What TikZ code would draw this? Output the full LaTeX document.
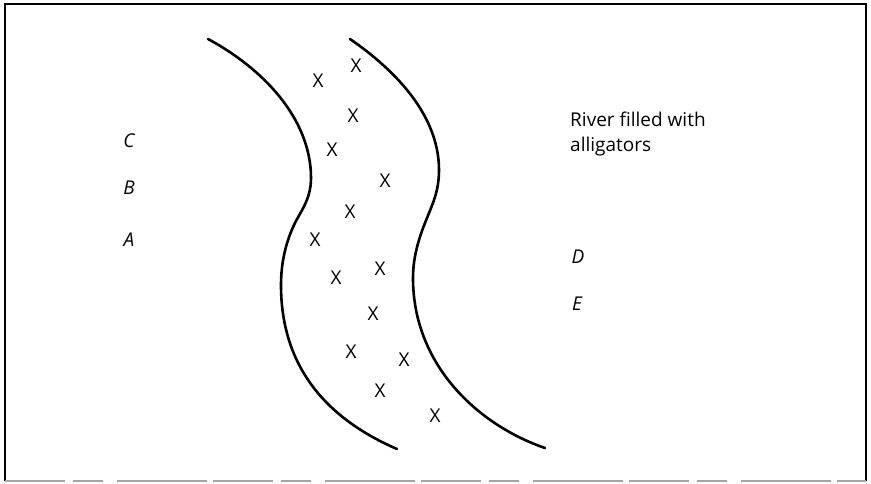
\documentclass[tikz,border=0pt]{standalone}
\usepackage{fontspec}
\setmainfont{Open Sans}
\begin{document}
\begin{tikzpicture}[x=1pt,y=-1pt,
  bank/.style={line width=2.6pt,line cap=round},
  gator/.style={inner sep=0pt,font=\fontsize{19}{19}\selectfont},
  lbl/.style={inner sep=0pt,font=\fontsize{19}{19}\selectfont\itshape},
  note/.style={inner sep=0pt,anchor=base west,align=left,font=\fontsize{19}{25}\selectfont}]
\useasboundingbox (0,0) rectangle (871,484);
% frame
\draw[line width=1.2pt] (5,481) -- (5,4) -- (866,4) -- (866,481);
\draw[line width=1.6pt,gray!70,dash pattern=on 60pt off 8pt on 30pt off 14pt on 90pt off 6pt] (5,481) -- (866,481);
% river banks
\draw[bank] (208,39) .. controls (262,68) and (311,118) .. (311,178)
  .. controls (311,200) and (300,212) .. (294,225)
  .. controls (287,240) and (281,260) .. (281,285)
  .. controls (281,370) and (330,420) .. (397,449);
\draw[bank] (350,39) .. controls (395,70) and (439,115) .. (439,170)
  .. controls (439,192) and (432,205) .. (427,218)
  .. controls (420,235) and (413,255) .. (413,278)
  .. controls (413,365) and (478,425) .. (545,448);
% alligators
\node[gator] (x1) at (318,81) {X};
\node[gator] (x2) at (356,66) {X};
\node[gator] (x3) at (353,116) {X};
\node[gator] (x4) at (332,150) {X};
\node[gator] (x5) at (385,181) {X};
\node[gator] (x6) at (350,212) {X};
\node[gator] (x7) at (315,240) {X};
\node[gator] (x8) at (380,269) {X};
\node[gator] (x9) at (336,278) {X};
\node[gator] (x10) at (373,314) {X};
\node[gator] (x11) at (351,352) {X};
\node[gator] (x12) at (404,360) {X};
\node[gator] (x13) at (380,391) {X};
\node[gator] (x14) at (435,416) {X};
% labels
\node[lbl] (C) at (129,141) {C};
\node[lbl] (B) at (129,188) {B};
\node[lbl] (A) at (129,240) {A};
\node[lbl] (D) at (578,257) {D};
\node[lbl] (E) at (577,304) {E};
\node[note] (river) at (570,152) {River filled with\\alligators};
\end{tikzpicture}
\end{document}
